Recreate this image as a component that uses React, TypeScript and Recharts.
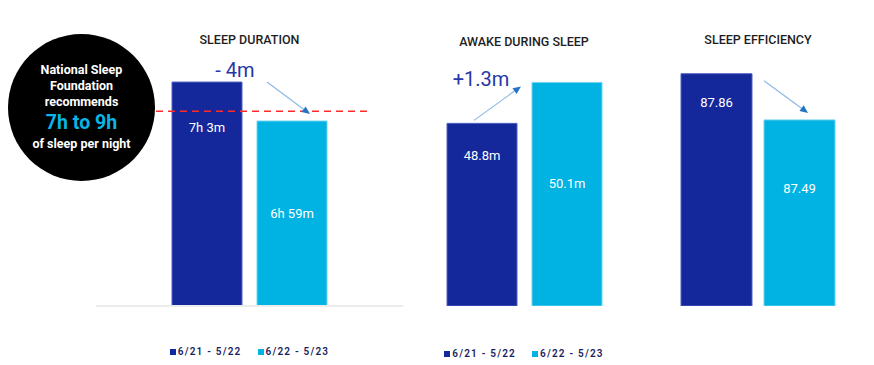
import React from 'react';
import { BarChart, Bar, XAxis, YAxis, ReferenceLine, LabelList, Legend } from 'recharts';

const periods = ['6/21 - 5/22', '6/22 - 5/23'];
const panelTitles = ['SLEEP DURATION', 'AWAKE DURING SLEEP', 'SLEEP EFFICIENCY'];

const durationMinutes = [423, 419];
const durationLabels = ['7h 3m', '6h 59m'];
const awakeMinutes = [48.8, 50.1];
const awakeLabels = ['48.8m', '50.1m'];
const efficiencyScores = [87.86, 87.49];
const efficiencyLabels = ['87.86', '87.49'];

const recommendedMinutes = 420; // 7h lower bound of recommendation
const deltaLabels = ['- 4m', '+1.3m'];

const DARK = '#14289c';
const LIGHT = '#01b3e3';
const periodColors = [DARK, LIGHT];
const FONT = 'Roboto, "Noto Sans", sans-serif';
const CHART_H = 365;

type Geom = { x1: number; x2: number; w: number; t1: number; t2: number };

const box = (p: any) => {
  const vb = p.viewBox || {};
  return {
    x: Number(p.x ?? vb.x),
    y: Number(p.y ?? vb.y),
    width: Number(p.width ?? vb.width),
    height: Number(p.height ?? vb.height),
  };
};

function Arrow({ x1, y1, x2, y2 }: { x1: number; y1: number; x2: number; y2: number }) {
  const a = Math.atan2(y2 - y1, x2 - x1);
  const len = 8;
  const half = 3.5;
  const bx = x2 - len * Math.cos(a);
  const by = y2 - len * Math.sin(a);
  const nx = -Math.sin(a) * half;
  const ny = Math.cos(a) * half;
  return (
    <g>
      <line x1={x1} y1={y1} x2={bx} y2={by} stroke="#8cb9e8" strokeWidth={1.2} />
      <polygon points={`${x2},${y2} ${bx + nx},${by + ny} ${bx - nx},${by - ny}`} fill="#2474c6" />
    </g>
  );
}

const LegendRow = () => (
  <div
    style={{
      display: 'flex', justifyContent: 'center', gap: 16, fontFamily: FONT, fontSize: 10,
      fontWeight: 600, letterSpacing: 1.2, color: '#1b1f5e', lineHeight: '12px',
    }}
  >
    {periods.map((p, i) => (
      <span key={p} style={{ display: 'inline-flex', alignItems: 'center' }}>
        <span style={{ width: 6, height: 6, background: periodColors[i], marginRight: 2 }} />
        {p}
      </span>
    ))}
  </div>
);

type PanelProps = {
  left: number;
  width: number;
  title: string;
  titleTop: number;
  values: number[];
  labels: string[];
  domain: [number, number];
  barSize: number;
  barGap: number;
  labelDy: [number, number];
  axisLine?: boolean;
  recommended?: boolean;
  legendTop?: number;
  annotate?: (g: Geom) => React.ReactNode;
};

function Panel(p: PanelProps) {
  const data = [{ name: p.title, a: p.values[0], b: p.values[1] }];
  const min = p.domain[0];

  const valueLabel = (i: number) => (lp: any) => {
    const { x, y, width } = box(lp);
    return (
      <text x={x + width / 2} y={y + p.labelDy[i]} fill="#ffffff" textAnchor="middle"
        dominantBaseline="central" fontFamily={FONT} fontSize={13}>
        {p.labels[i]}
      </text>
    );
  };

  // arrow + delta text, placed from the two bars' geometry
  const annotation = (lp: any) => {
    if (!p.annotate) return null;
    const { x, y, width, height } = box(lp);
    const k = height / (p.values[1] - min);
    const bottom = y + height;
    const g: Geom = { x1: x - p.barGap - width, x2: x, w: width, t1: bottom - (p.values[0] - min) * k, t2: y };
    return p.annotate(g);
  };

  return (
    <div style={{ position: 'absolute', left: p.left, top: 0, width: p.width, height: CHART_H }}>
      <BarChart width={p.width} height={CHART_H} data={data}
        margin={{ top: 10, right: 0, bottom: 59, left: 0 }} barSize={p.barSize} barGap={p.barGap}>
        <XAxis dataKey="name" hide />
        <YAxis hide type="number" domain={p.domain} allowDataOverflow />
        {p.axisLine && <ReferenceLine y={min} stroke="#ececec" strokeWidth={2} />}
        <Bar dataKey="a" name={periods[0]} fill={DARK} stroke="#5061c4" strokeWidth={1} isAnimationActive={false}>
          <LabelList dataKey="a" content={valueLabel(0)} />
        </Bar>
        <Bar dataKey="b" name={periods[1]} fill={LIGHT} stroke="#74d3ef" strokeWidth={1} isAnimationActive={false}>
          <LabelList dataKey="b" content={valueLabel(1)} />
          <LabelList dataKey="b" content={annotation} />
        </Bar>
        {p.recommended && (
          <ReferenceLine
            y={recommendedMinutes}
            stroke="#ff2b2b"
            strokeWidth={1.5}
            strokeDasharray="7 5"
            shape={(sp: any) => (
              <line x1={sp.x1} y1={sp.y1} x2={sp.x2 - 33} y2={sp.y2} stroke="#ff2b2b" strokeWidth={1.5} strokeDasharray="7 5" />
            )}
          />
        )}
        {p.legendTop !== undefined && (
          <Legend verticalAlign="middle" align="center" layout="horizontal"
            wrapperStyle={{ top: p.legendTop, left: 0, width: p.width }} content={() => <LegendRow />} />
        )}
      </BarChart>
      <div
        style={{
          position: 'absolute', top: p.titleTop, left: 0, width: '100%', textAlign: 'center',
          fontFamily: FONT, fontSize: 12.5, fontWeight: 500, color: '#1e1e1e', lineHeight: '15px',
        }}
      >
        {p.title}
      </div>
    </div>
  );
}

const deltaStyle = { fontFamily: FONT, fontSize: 20, fill: '#2637a8' };

export default function App() {
  return (
    <div style={{ position: 'absolute', left: 0, top: 0, width: 874, height: 365, background: '#ffffff', overflow: 'hidden' }}>
      <Panel
        left={96} width={307} title={panelTitles[0]} titleTop={31.5}
        values={durationMinutes} labels={durationLabels} domain={[400, 430.4]}
        barSize={70} barGap={15} labelDy={[45, 92]} axisLine recommended legendTop={346}
        annotate={(g) => (
          <g>
            <text x={g.x1 + g.w - 7} y={g.t1 - 5} textAnchor="middle" {...deltaStyle}>{deltaLabels[0]}</text>
            <Arrow x1={g.x2 + 10} y1={g.t1} x2={g.x2 + 53} y2={g.t2 - 7} />
          </g>
        )}
      />
      <Panel
        left={414} width={220} title={panelTitles[1]} titleTop={33.5}
        values={awakeMinutes} labels={awakeLabels} domain={[43, 52.4]}
        barSize={70} barGap={15} labelDy={[32, 101]} legendTop={348}
        annotate={(g) => (
          <g>
            <text x={g.x1 + g.w / 2 - 1} y={g.t2 + 4} textAnchor="middle" {...deltaStyle}>{deltaLabels[1]}</text>
            <Arrow x1={g.x1 + g.w / 2 - 8} y1={g.t1 - 3} x2={g.x2 - 11} y2={g.t2 + 4} />
          </g>
        )}
      />
      <Panel
        left={648} width={220} title={panelTitles[2]} titleTop={31.5}
        values={efficiencyScores} labels={efficiencyLabels} domain={[86, 88.37]}
        barSize={71} barGap={12} labelDy={[29, 69]}
        annotate={(g) => <Arrow x1={g.x2} y1={g.t1 + 7} x2={g.x2 + 44} y2={g.t2 - 7} />}
      />
      <div
        style={{
          position: 'absolute', left: 8, top: 34, width: 147, height: 147, borderRadius: '50%',
          background: '#000000', color: '#ffffff', fontFamily: FONT, fontWeight: 700, fontSize: 12.5,
          textAlign: 'center', boxSizing: 'border-box', paddingTop: 28,
        }}
      >
        <div style={{ lineHeight: '16px' }}>National Sleep</div>
        <div style={{ lineHeight: '16px' }}>Foundation</div>
        <div style={{ lineHeight: '16px' }}>recommends</div>
        <div style={{ lineHeight: '26px', fontSize: 19.5, color: '#0ab4e6' }}>7h to 9h</div>
        <div style={{ lineHeight: '16px' }}>of sleep per night</div>
      </div>
    </div>
  );
}
